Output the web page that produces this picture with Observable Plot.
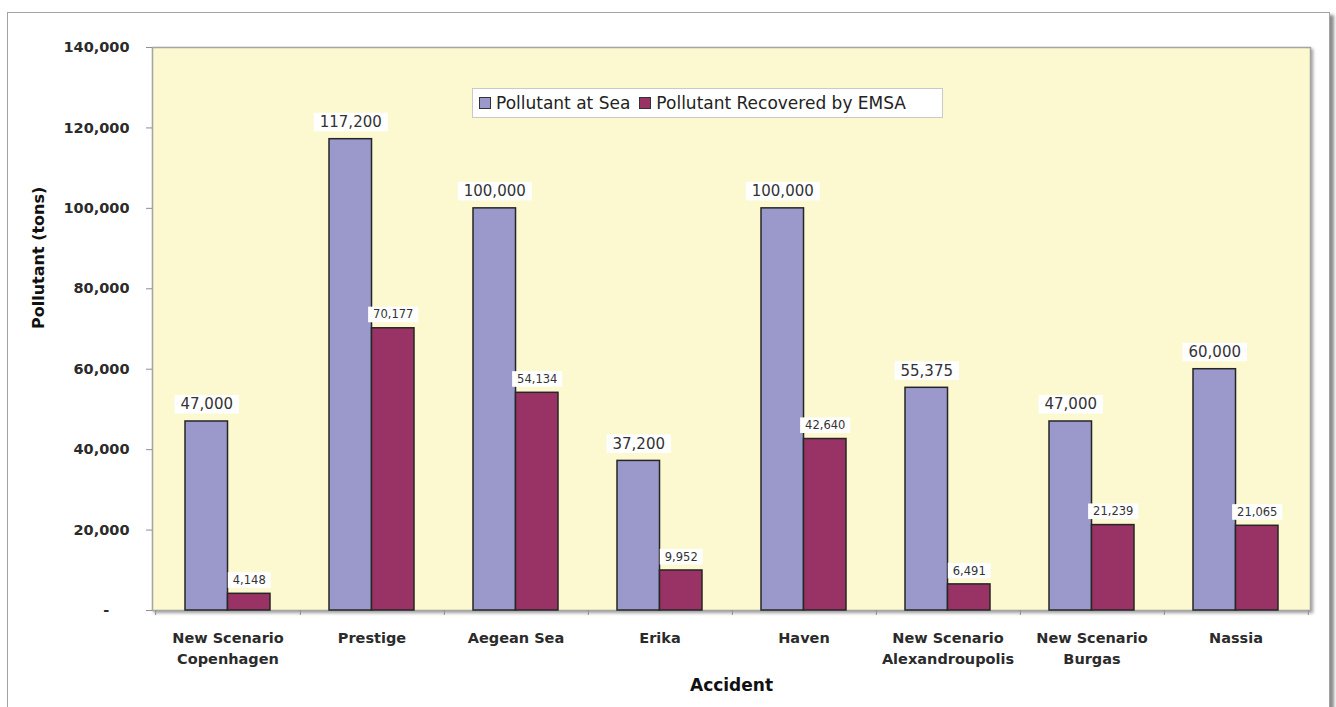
<!DOCTYPE html>
<html>
<head>
<meta charset="utf-8">
<script src="https://cdn.jsdelivr.net/npm/d3@7"></script>
<script src="https://cdn.jsdelivr.net/npm/@observablehq/plot@0.6"></script>
<style>
  html, body { margin: 0; padding: 0; background: #ffffff; }
  body { width: 1336px; height: 707px; overflow: hidden; position: relative; font-family: "DejaVu Sans", Verdana, sans-serif; }
  #sheet {
    position: absolute; left: 7px; top: 12px; width: 1323px; height: 760px;
    border: 1.5px solid #a3a3a3; box-sizing: border-box; background: #ffffff;
    box-shadow: 4px 3px 3px rgba(0,0,0,0.45);
  }
  #chart { position: absolute; left: 0; top: 0; }
  #legend {
    position: absolute; left: 472px; top: 88px; width: 471px; height: 30px;
    box-sizing: border-box; border: 1px solid #c9c9c9; background: #ffffff;
    display: flex; align-items: center; padding-left: 6px;
    font-size: 17px; color: #232323; white-space: nowrap;
  }
  #legend .sw { width: 12px; height: 12px; box-sizing: border-box; border: 1.5px solid #333; margin-right: 5px; }
  #legend .item { display: flex; align-items: center; }
  #legend .item + .item { margin-left: 9px; }
</style>
</head>
<body>
<div id="sheet"></div>
<div id="chart"></div>
<div id="legend"></div>
<script>
// Accidents and the two tonnage series
const accidents = [
  "New Scenario Copenhagen", "Prestige", "Aegean Sea", "Erika",
  "Haven", "New Scenario Alexandroupolis", "New Scenario Burgas", "Nassia"
];
const accidentLabels = [
  "New Scenario\nCopenhagen", "Prestige", "Aegean Sea", "Erika",
  "Haven", "New Scenario\nAlexandroupolis", "New Scenario\nBurgas", "Nassia"
];
const pollutantAtSea = [47000, 117200, 100000, 37200, 100000, 55375, 47000, 60000];
const pollutantRecovered = [4148, 70177, 54134, 9952, 42640, 6491, 21239, 21065];
const seriesNames = ["Pollutant at Sea", "Pollutant Recovered by EMSA"];
const seriesColors = ["#9b99cc", "#993366"];
const yTicks = [0, 20000, 40000, 60000, 80000, 100000, 120000, 140000];

const rows = accidents.map((a, i) => ({
  accident: a,
  sea: pollutantAtSea[i],
  recovered: pollutantRecovered[i]
}));

// Layout
const W = 1336, H = 707;
const mL = 152, mR = 26, mT = 47, mB = 97;
const paddingInner = 0.413, paddingOuter = paddingInner / 2;
const step = (W - mL - mR) / accidents.length;
const band = step * (1 - paddingInner);
const half = band / 2;

const fmt = d3.format(",");
const labelOf = new Map(accidents.map((a, i) => [a, accidentLabels[i]]));
const font = "DejaVu Sans, Verdana, sans-serif";

const chart = Plot.plot({
  width: W,
  height: H,
  marginLeft: mL,
  marginRight: mR,
  marginTop: mT,
  marginBottom: mB,
  style: { fontFamily: font, background: "transparent", overflow: "visible" },
  x: { type: "band", domain: accidents, paddingInner, paddingOuter, label: null },
  y: { domain: [0, 140000], label: null },
  marks: [
    Plot.frame({ fill: "#fcf8cf", stroke: "#a5a5a5", strokeWidth: 1.5 }),
    // bars: left half of each band for the pollutant at sea, right half for recovered
    Plot.barY(rows, { x: "accident", y: "sea", fill: seriesColors[0], stroke: "#262626", strokeWidth: 1.5, insetRight: half }),
    Plot.barY(rows, { x: "accident", y: "recovered", fill: seriesColors[1], stroke: "#262626", strokeWidth: 1.5, insetLeft: half }),
    // value labels (first two text marks)
    Plot.text(rows, {
      x: "accident", y: "sea", text: d => fmt(d.sea), dx: -half / 2, dy: -17,
      lineAnchor: "middle", fontSize: 15, fill: "#333"
    }),
    Plot.text(rows, {
      x: "accident", y: "recovered", text: d => fmt(d.recovered), dx: half / 2, dy: -13.5,
      lineAnchor: "middle", fontSize: 11.5, fill: "#333"
    }),
    // y axis
    Plot.axisY({
      ticks: yTicks, tickSize: 6, tickPadding: 17, stroke: "#8f8f8f", fill: "#2b2b2b",
      fontSize: 14.5, fontWeight: "bold",
      tickFormat: d => d === 0 ? "-\u00a0\u00a0\u00a0\u00a0" : fmt(d)
    }),
    // category labels
    Plot.axisX({
      tickSize: 0, tickPadding: 18, fill: "#2b2b2b", fontSize: 14.5, fontWeight: "bold",
      lineHeight: 1.45, tickFormat: d => labelOf.get(d)
    }),
    // tick marks on the category boundaries
    Plot.axisX({ tickSize: 5, stroke: "#8f8f8f", text: null, dx: step / 2 }),
    Plot.axisX({ ticks: [accidents[0]], tickSize: 5, stroke: "#8f8f8f", text: null, dx: -step / 2 }),
    // axis titles
    Plot.text(["Accident"], {
      frameAnchor: "bottom", dy: mB - 22, lineAnchor: "middle",
      fontSize: 17, fontWeight: "bold", fill: "#111"
    }),
    Plot.text(["Pollutant (tons)"], {
      frameAnchor: "left", dx: -(mL - 38), rotate: -90, lineAnchor: "middle",
      fontSize: 16, fontWeight: "bold", fill: "#111"
    })
  ]
});

document.getElementById("chart").appendChild(chart);

// shadow along the plotting area
const area = chart.querySelector('[aria-label="frame"]');
if (area) area.style.filter = "drop-shadow(2px 2px 1.5px rgba(0,0,0,0.35))";

// white boxes behind the value labels
const ns = "http://www.w3.org/2000/svg";
const textGroups = chart.querySelectorAll('g[aria-label="text"]');
function boxLabels(group, padX, padY) {
  if (!group) return;
  group.querySelectorAll("text").forEach(t => {
    const b = t.getBBox();
    const r = document.createElementNS(ns, "rect");
    r.setAttribute("x", b.x - padX);
    r.setAttribute("y", b.y - padY);
    r.setAttribute("width", b.width + 2 * padX);
    r.setAttribute("height", b.height + 2 * padY);
    r.setAttribute("fill", "#ffffff");
    const tr = t.getAttribute("transform");
    if (tr) r.setAttribute("transform", tr);
    t.parentNode.insertBefore(r, t);
  });
}
boxLabels(textGroups[0], 6, 0.3);
boxLabels(textGroups[1], 5, 0.8);

// legend
const legend = document.getElementById("legend");
seriesNames.forEach((name, i) => {
  const item = document.createElement("div");
  item.className = "item";
  const sw = document.createElement("span");
  sw.className = "sw";
  sw.style.background = seriesColors[i];
  const tx = document.createElement("span");
  tx.textContent = name;
  item.appendChild(sw);
  item.appendChild(tx);
  legend.appendChild(item);
});
</script>
</body>
</html>
